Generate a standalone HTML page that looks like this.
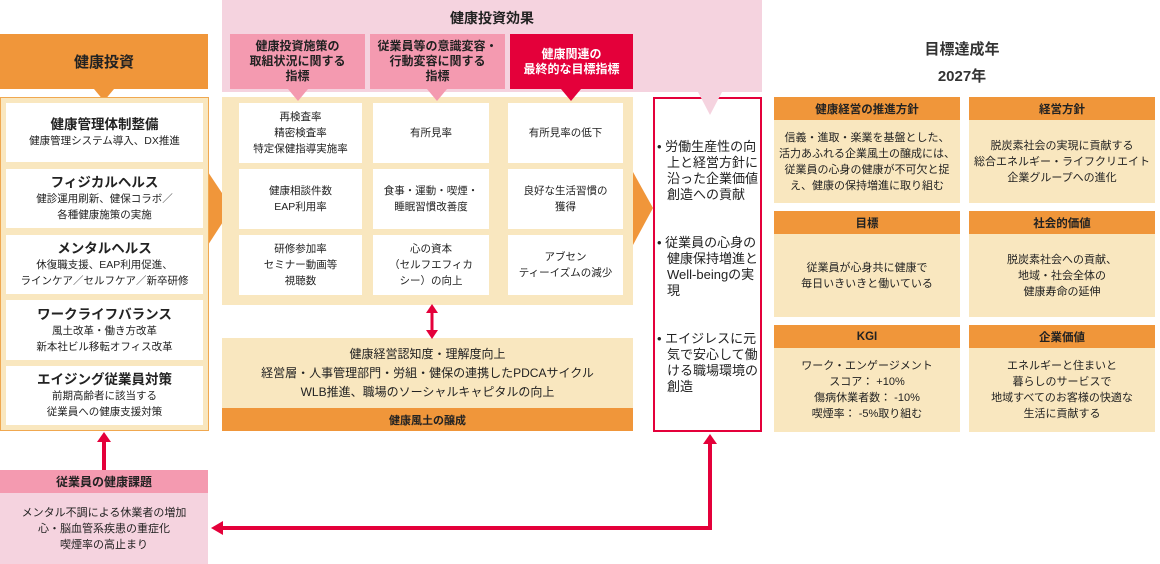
<!DOCTYPE html>
<html><head><meta charset="utf-8"><style>
*{margin:0;padding:0;box-sizing:border-box}
body{width:1160px;height:564px;background:#fff;position:relative;overflow:hidden;font-family:"Liberation Sans","Noto Sans CJK JP",sans-serif;color:#222}
.a{position:absolute}
.c{display:flex;flex-direction:column;align-items:center;justify-content:center;text-align:center}
.w{background:#fff}
.t{font-size:10.5px;line-height:16px}
.h{font-size:13.5px;font-weight:bold;line-height:17px}
.oh{background:#f0963a;font-size:11.5px;font-weight:bold}
.cb{background:#f9e7bf;font-size:11px;line-height:16px}
</style></head><body>
<!-- left -->
<div class="a c" style="left:0;top:34px;width:208px;height:55px;background:#f0963a;font-size:15px;font-weight:bold">健康投資</div>
<svg class="a" style="left:0;top:0" width="1160" height="564">
<polygon points="94,89 114,89 104,101" fill="#f0963a"/>
<polygon points="208,172 232,208 208,245" fill="#f0963a"/>
<polygon points="633,172 653,208 633,245" fill="#f0963a"/>
</svg>
<div class="a" style="left:0;top:97px;width:209px;height:334px;background:#f9e7bf;border:1px solid #f0a850"></div>
<div class="a c w" style="left:6px;top:103px;width:197px;height:59px"><div class="h">健康管理体制整備</div><div class="t">健康管理システム導入、DX推進</div></div>
<div class="a c w" style="left:6px;top:169px;width:197px;height:59px"><div class="h">フィジカルヘルス</div><div class="t">健診運用刷新、健保コラボ／<br>各種健康施策の実施</div></div>
<div class="a c w" style="left:6px;top:235px;width:197px;height:59px"><div class="h">メンタルヘルス</div><div class="t">休復職支援、EAP利用促進、<br>ラインケア／セルフケア／新卒研修</div></div>
<div class="a c w" style="left:6px;top:300px;width:197px;height:60px"><div class="h">ワークライフバランス</div><div class="t">風土改革・働き方改革<br>新本社ビル移転オフィス改革</div></div>
<div class="a c w" style="left:6px;top:366px;width:197px;height:59px"><div class="h">エイジング従業員対策</div><div class="t">前期高齢者に該当する<br>従業員への健康支援対策</div></div>
<!-- bottom left -->
<div class="a c" style="left:0;top:470px;width:208px;height:23px;background:#f49ab0;font-size:12px;font-weight:bold">従業員の健康課題</div>
<div class="a c t" style="left:0;top:493px;width:208px;height:71px;background:#f5d3df;line-height:16px;font-size:11px">メンタル不調による休業者の増加<br>心・脳血管系疾患の重症化<br>喫煙率の高止まり</div>
<!-- middle -->
<div class="a" style="left:222px;top:0;width:540px;height:92px;background:#f5d3df"></div>
<div class="a" style="left:222px;top:8px;width:540px;text-align:center;font-size:14px;font-weight:bold">健康投資効果</div>
<div class="a c" style="left:230px;top:34px;width:135px;height:55px;background:#f49ab0;font-size:12px;font-weight:bold;line-height:15px">健康投資施策の<br>取組状況に関する<br>指標</div>
<div class="a c" style="left:370px;top:34px;width:135px;height:55px;background:#f49ab0;font-size:12px;font-weight:bold;line-height:15px">従業員等の意識変容・<br>行動変容に関する<br>指標</div>
<div class="a c" style="left:510px;top:34px;width:123px;height:55px;background:#e4003a;color:#fff;font-size:12px;font-weight:bold;line-height:15px">健康関連の<br>最終的な目標指標</div>
<div class="a" style="left:222px;top:97px;width:411px;height:208px;background:#f9e7bf"></div>
<svg class="a" style="left:0;top:0" width="1160" height="564">
<polygon points="288,89 308,89 298,101" fill="#f49ab0"/>
<polygon points="427,89 447,89 437,101" fill="#f49ab0"/>
<polygon points="561,89 581,89 571,101" fill="#e4003a"/>
</svg>
<div class="a c w t" style="left:239px;top:103px;width:123px;height:60px">再検査率<br>精密検査率<br>特定保健指導実施率</div>
<div class="a c w t" style="left:239px;top:169px;width:123px;height:60px">健康相談件数<br>EAP利用率</div>
<div class="a c w t" style="left:239px;top:235px;width:123px;height:60px">研修参加率<br>セミナー動画等<br>視聴数</div>
<div class="a c w t" style="left:373px;top:103px;width:116px;height:60px">有所見率</div>
<div class="a c w t" style="left:373px;top:169px;width:116px;height:60px">食事・運動・喫煙・<br>睡眠習慣改善度</div>
<div class="a c w t" style="left:373px;top:235px;width:116px;height:60px">心の資本<br>（セルフエフィカ<br>シー）の向上</div>
<div class="a c w t" style="left:508px;top:103px;width:115px;height:60px">有所見率の低下</div>
<div class="a c w t" style="left:508px;top:169px;width:115px;height:60px">良好な生活習慣の<br>獲得</div>
<div class="a c w t" style="left:508px;top:235px;width:115px;height:60px">アブセン<br>ティーイズムの減少</div>
<div class="a c" style="left:222px;top:338px;width:411px;height:70px;background:#f9e7bf;font-size:12px;line-height:19px">健康経営認知度・理解度向上<br>経営層・人事管理部門・労組・健保の連携したPDCAサイクル<br>WLB推進、職場のソーシャルキャピタルの向上</div>
<div class="a c" style="left:222px;top:408px;width:411px;height:23px;background:#f0963a;font-size:11px;font-weight:bold">健康風土の醸成</div>
<!-- red box -->
<div class="a" style="left:653px;top:97px;width:109px;height:335px;border:2px solid #e4003a;background:#fff"></div>
<svg class="a" style="left:0;top:0" width="1160" height="564">
<polygon points="698,92 722,92 710,115" fill="#f5d3df"/>
<line x1="432" y1="312" x2="432" y2="331" stroke="#e4003a" stroke-width="3"/>
<polygon points="426,313 438,313 432,304" fill="#e4003a"/>
<polygon points="426,330 438,330 432,339" fill="#e4003a"/>
<line x1="104" y1="440" x2="104" y2="470" stroke="#e4003a" stroke-width="4"/>
<polygon points="97,442 111,442 104,432" fill="#e4003a"/>
<polyline points="710,444 710,528 222,528" fill="none" stroke="#e4003a" stroke-width="4"/>
<polygon points="703,444 717,444 710,434" fill="#e4003a"/>
<polygon points="223,521 223,535 211,528" fill="#e4003a"/>
</svg>
<div class="a" style="left:657px;top:139px;width:104px;font-size:13px;line-height:16px">
<div style="padding-left:10px;text-indent:-10px">• 労働生産性の向上と経営方針に沿った企業価値創造への貢献</div>
<div style="padding-left:10px;text-indent:-10px;margin-top:32px">• 従業員の心身の健康保持増進とWell-beingの実現</div>
<div style="padding-left:10px;text-indent:-10px;margin-top:32px">• エイジレスに元気で安心して働ける職場環境の創造</div>
</div>
<!-- right -->
<div class="a" style="left:860px;top:36px;width:204px;text-align:center;font-size:15px;font-weight:bold;line-height:27px;color:#333">目標達成年<br>2027年</div>
<div class="a c oh" style="left:774px;top:97px;width:186px;height:23px">健康経営の推進方針</div>
<div class="a c cb" style="left:774px;top:120px;width:186px;height:83px">信義・進取・楽業を基盤とした、<br>活力あふれる企業風土の醸成には、<br>従業員の心身の健康が不可欠と捉<br>え、健康の保持増進に取り組む</div>
<div class="a c oh" style="left:969px;top:97px;width:186px;height:23px">経営方針</div>
<div class="a c cb" style="left:969px;top:120px;width:186px;height:83px">脱炭素社会の実現に貢献する<br>総合エネルギー・ライフクリエイト<br>企業グループへの進化</div>
<div class="a c oh" style="left:774px;top:211px;width:186px;height:23px">目標</div>
<div class="a c cb" style="left:774px;top:234px;width:186px;height:83px">従業員が心身共に健康で<br>毎日いきいきと働いている</div>
<div class="a c oh" style="left:969px;top:211px;width:186px;height:23px">社会的価値</div>
<div class="a c cb" style="left:969px;top:234px;width:186px;height:83px">脱炭素社会への貢献、<br>地域・社会全体の<br>健康寿命の延伸</div>
<div class="a c oh" style="left:774px;top:325px;width:186px;height:23px">KGI</div>
<div class="a c cb" style="left:774px;top:348px;width:186px;height:84px">ワーク・エンゲージメント<br>スコア： +10%<br>傷病休業者数： -10%<br>喫煙率： -5%取り組む</div>
<div class="a c oh" style="left:969px;top:325px;width:186px;height:23px">企業価値</div>
<div class="a c cb" style="left:969px;top:348px;width:186px;height:84px">エネルギーと住まいと<br>暮らしのサービスで<br>地域すべてのお客様の快適な<br>生活に貢献する</div>
</body></html>
